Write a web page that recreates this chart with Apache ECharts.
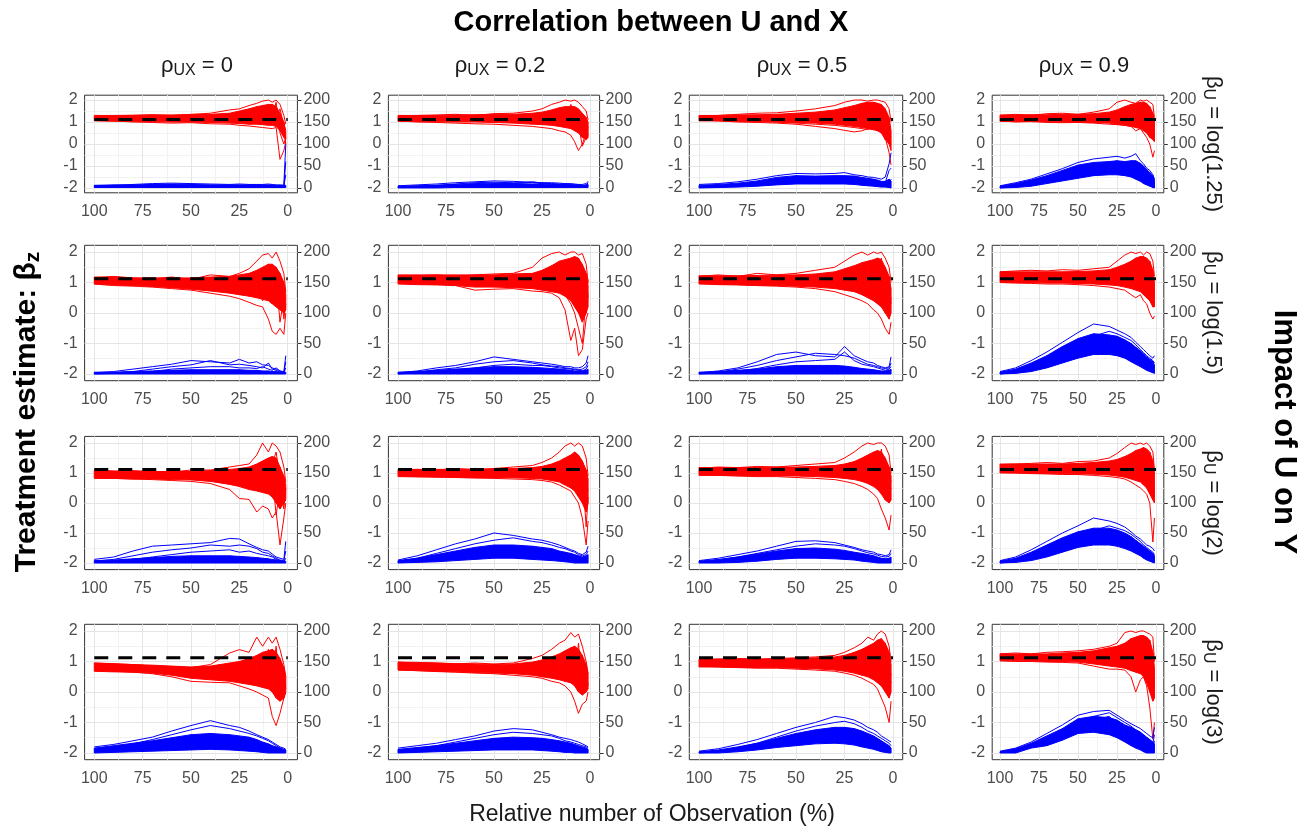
<!DOCTYPE html>
<html>
<head>
<meta charset="utf-8">
<script src="https://cdn.jsdelivr.net/npm/echarts@6/dist/echarts.min.js"></script>
<style>
  html, body { margin: 0; padding: 0; background: #fff; }
  #chart { width: 1303px; height: 830px; }
</style>
</head>
<body>
<div id="chart"></div>
<script>
const xPct = [100, 90, 80, 70, 60, 50, 40, 30, 25, 20, 16, 13, 10, 8, 6, 4, 2, 1];

// red = treatment estimate (left axis). rows 0-1: edges of the dense bundle, rest: single runs
// blue = right axis (0-200). rows 0-1: edges of the dense bundle, rest: single runs
const red_1_1 = [
  [1.05, 1.04, 1.03, 1.02, 1.0, 1.0, 0.98, 0.95, 0.93, 0.9, 0.9, 0.88, 0.85, 0.85, 0.8, 0.6, 0.3, 0.2],
  [1.3, 1.3, 1.31, 1.32, 1.32, 1.33, 1.35, 1.4, 1.5, 1.6, 1.7, 1.75, 1.8, 1.8, 1.7, 1.4, 1.0, 0.6],
  [1.25, 1.28, 1.3, 1.33, 1.3, 1.35, 1.4, 1.55, 1.6, 1.75, 1.85, 1.95, 2.0, 1.9, 2.0, 1.8, 1.3, 0.9],
  [1.08, 1.05, 1.0, 0.98, 0.95, 0.97, 0.92, 0.9, 0.85, 0.82, 0.78, 0.75, 0.72, 0.7, 0.75, -0.7, -0.3, 0.1],
  [1.15, 1.12, 1.2, 1.15, 1.1, 1.2, 1.05, 1.2, 1.1, 1.3, 1.5, 1.4, 1.6, 1.2, 1.9, 0.5, 0.0, 0.3],
  [1.2, 1.18, 1.1, 1.25, 1.2, 1.1, 1.25, 1.05, 1.35, 1.0, 1.2, 1.6, 1.0, 1.5, 1.2, 1.6, 0.8, 0.0]
];
const blue_1_1 = [
  [1, 1, 1, 1, 1, 1, 1, 1, 1, 1, 1, 1, 1, 1, 1, 1, 1, 1],
  [6, 7, 7, 8, 9, 8, 7, 7, 7, 7, 7, 7, 7, 7, 6, 6, 6, 6],
  [5, 6, 8, 10, 11, 10, 9, 8, 9, 8, 8, 8, 9, 8, 7, 7, 6, 100],
  [2, 3, 4, 5, 6, 5, 4, 5, 4, 4, 5, 4, 4, 3, 3, 3, 3, 60],
  [3, 4, 5, 7, 7, 6, 6, 6, 6, 5, 6, 5, 5, 5, 4, 4, 4, 30]
];
const red_1_2 = [
  [1.03, 1.02, 1.02, 1.0, 1.0, 0.98, 0.95, 0.9, 0.88, 0.85, 0.8, 0.75, 0.7, 0.6, 0.5, 0.3, 0.2, 0.3],
  [1.3, 1.3, 1.3, 1.32, 1.33, 1.35, 1.35, 1.4, 1.45, 1.55, 1.65, 1.7, 1.7, 1.7, 1.6, 1.4, 1.2, 1.0],
  [1.28, 1.3, 1.32, 1.35, 1.3, 1.38, 1.4, 1.5, 1.6, 1.8, 1.9, 2.0, 1.95, 2.0, 1.9, 1.7, 1.5, 1.1],
  [1.05, 1.0, 0.98, 0.95, 0.92, 0.9, 0.85, 0.8, 0.75, 0.7, 0.6, 0.55, 0.4, 0.1, -0.3, 0.0, 0.5, 0.6],
  [1.15, 1.2, 1.1, 1.18, 1.1, 1.2, 1.15, 1.05, 1.2, 1.3, 1.0, 1.4, 1.2, 0.6, 0.9, -0.1, 0.3, 0.8],
  [1.2, 1.1, 1.25, 1.15, 1.25, 1.1, 1.3, 1.25, 1.1, 1.45, 1.5, 1.1, 1.8, 1.5, 1.3, 1.1, 0.7, 0.4]
];
const blue_1_2 = [
  [0, 0, 0, 1, 1, 1, 1, 1, 1, 1, 1, 1, 1, 1, 1, 1, 1, 1],
  [4, 5, 6, 8, 10, 11, 10, 9, 9, 8, 8, 8, 7, 7, 6, 6, 7, 8],
  [5, 7, 9, 12, 14, 16, 15, 13, 12, 12, 11, 10, 10, 9, 8, 8, 10, 15],
  [2, 4, 6, 9, 12, 13, 12, 12, 10, 9, 8, 7, 6, 6, 5, 5, 6, 12],
  [1, 2, 3, 5, 7, 9, 10, 14, 11, 10, 9, 9, 8, 7, 8, 6, 5, 8]
];
const red_1_3 = [
  [1.05, 1.05, 1.03, 1.02, 1.0, 0.98, 0.95, 0.9, 0.85, 0.8, 0.75, 0.7, 0.65, 0.6, 0.5, 0.2, 0.0, -0.3],
  [1.3, 1.3, 1.32, 1.33, 1.35, 1.4, 1.45, 1.55, 1.65, 1.75, 1.85, 1.9, 1.9, 1.85, 1.8, 1.6, 1.2, 0.6],
  [1.25, 1.3, 1.35, 1.4, 1.42, 1.5, 1.6, 1.75, 1.9, 2.0, 2.0, 1.95, 2.0, 2.0, 1.95, 1.9, 1.6, 1.0],
  [1.1, 1.05, 1.0, 0.98, 0.95, 0.9, 0.8, 0.7, 0.62, 0.55, 0.6, 0.7, 0.65, 0.8, 0.6, 0.3, -0.4, -0.95],
  [1.15, 1.1, 1.12, 1.05, 1.0, 0.95, 0.9, 0.85, 0.8, 0.75, 0.7, 0.65, 0.85, 0.7, 0.9, 0.5, 0.2, 0.0],
  [1.2, 1.22, 1.2, 1.25, 1.2, 1.3, 1.1, 1.4, 1.2, 1.6, 1.3, 1.7, 1.5, 1.2, 1.4, 0.8, 0.5, 0.3]
];
const blue_1_3 = [
  [0, 1, 2, 4, 7, 9, 9, 9, 9, 8, 6, 5, 4, 3, 2, 2, 1, 0],
  [6, 8, 11, 16, 24, 28, 27, 28, 28, 27, 24, 22, 20, 18, 15, 15, 20, 15],
  [8, 10, 14, 20, 28, 33, 32, 33, 35, 30, 28, 25, 24, 22, 20, 25, 55, 80],
  [3, 5, 8, 12, 18, 24, 25, 22, 24, 22, 18, 16, 14, 12, 10, 12, 40, 45],
  [1, 2, 4, 8, 13, 18, 17, 16, 17, 16, 14, 12, 10, 9, 8, 6, 10, 20]
];
const red_1_4 = [
  [1.03, 1.03, 1.02, 1.02, 1.0, 1.0, 0.98, 0.95, 0.9, 0.85, 0.8, 0.75, 0.7, 0.6, 0.5, 0.3, 0.2, 0.1],
  [1.32, 1.32, 1.33, 1.33, 1.35, 1.35, 1.38, 1.45, 1.55, 1.7, 1.8, 1.85, 1.9, 1.9, 1.85, 1.7, 1.4, 1.1],
  [1.3, 1.35, 1.3, 1.38, 1.4, 1.35, 1.45, 1.6, 1.9, 2.0, 1.9, 1.85, 2.0, 1.95, 2.0, 1.9, 1.8, 1.2],
  [1.05, 1.0, 1.02, 0.98, 0.97, 0.98, 0.95, 0.9, 0.88, 0.85, 0.8, 0.6, 0.7, 0.5, 0.3, 0.0, -0.6, -0.3],
  [1.2, 1.15, 1.25, 1.1, 1.2, 1.15, 1.1, 1.25, 1.2, 1.4, 1.0, 1.3, 1.1, 0.9, 1.4, 0.7, 0.4, 0.5],
  [1.15, 1.25, 1.1, 1.2, 1.1, 1.25, 1.3, 1.1, 1.5, 1.2, 1.6, 1.1, 1.5, 1.3, 0.8, 1.2, 0.9, 0.6]
];
const blue_1_4 = [
  [0, 1, 4, 10, 16, 22, 28, 30, 30, 28, 25, 20, 15, 10, 7, 4, 1, 0],
  [4, 10, 18, 28, 40, 52, 58, 60, 62, 60, 62, 62, 56, 50, 42, 35, 28, 18],
  [5, 12, 20, 32, 44, 58, 66, 70, 72, 68, 72, 78, 62, 55, 45, 40, 30, 20],
  [2, 6, 12, 20, 30, 40, 48, 52, 50, 52, 55, 52, 48, 40, 35, 28, 22, 10],
  [0, 3, 8, 15, 22, 30, 34, 38, 36, 40, 35, 32, 30, 26, 22, 16, 8, 2]
];
const red_2_1 = [
  [0.95, 0.92, 0.9, 0.87, 0.83, 0.78, 0.72, 0.65, 0.6, 0.55, 0.5, 0.45, 0.4, 0.3, 0.2, 0.1, 0.0, 0.1],
  [1.18, 1.18, 1.15, 1.15, 1.15, 1.15, 1.18, 1.2, 1.25, 1.3, 1.4, 1.5, 1.6, 1.6, 1.5, 1.3, 1.0, 0.6],
  [1.15, 1.2, 1.15, 1.12, 1.18, 1.1, 1.25, 1.2, 1.3, 1.45, 1.7, 1.9, 1.95, 1.8, 2.0, 1.7, 1.3, 0.7],
  [0.95, 0.9, 0.88, 0.85, 0.8, 0.75, 0.65, 0.55, 0.47, 0.35, 0.25, 0.2, -0.2, -0.6, -0.7, -0.5, -0.7, 0.0],
  [1.05, 1.0, 1.02, 0.95, 0.9, 0.95, 0.85, 0.8, 0.75, 0.6, 0.9, 0.4, 1.0, 0.3, 1.2, -0.3, 0.5, 0.45],
  [1.1, 1.05, 0.98, 1.05, 1.0, 0.85, 1.0, 0.95, 1.1, 0.9, 1.2, 1.3, 0.7, 1.5, 0.5, 1.0, -0.2, 0.3]
];
const blue_2_1 = [
  [0, 0, 0, 0, 0, 0, 0, 0, 0, 0, 0, 0, 0, 0, 0, 0, 0, 0],
  [3, 3, 4, 5, 6, 7, 7, 7, 7, 6, 6, 5, 5, 4, 4, 3, 3, 3],
  [2, 4, 8, 12, 16, 22, 20, 18, 24, 18, 20, 15, 14, 10, 8, 5, 4, 30],
  [1, 2, 4, 8, 12, 15, 22, 15, 16, 14, 12, 10, 18, 8, 6, 3, 2, 20],
  [0, 1, 2, 4, 8, 10, 12, 12, 10, 10, 9, 12, 8, 6, 10, 5, 2, 10]
];
const red_2_2 = [
  [0.95, 0.93, 0.92, 0.9, 0.85, 0.85, 0.83, 0.8, 0.75, 0.7, 0.65, 0.55, 0.4, 0.2, 0.0, -0.3, 0.0, 0.2],
  [1.25, 1.25, 1.25, 1.25, 1.25, 1.25, 1.28, 1.3, 1.4, 1.55, 1.7, 1.75, 1.8, 1.85, 1.8, 1.6, 1.3, 0.9],
  [1.2, 1.22, 1.25, 1.2, 1.25, 1.28, 1.3, 1.5, 1.8, 1.95, 2.0, 1.9, 2.0, 2.0, 1.9, 1.95, 1.6, 1.0],
  [1.0, 0.98, 0.95, 0.9, 0.75, 0.78, 0.8, 0.72, 0.7, 0.65, 0.5, 0.1, -0.9, -0.5, -1.4, -1.2, -0.2, 0.0],
  [1.05, 1.1, 1.0, 1.05, 0.95, 0.9, 0.95, 0.85, 0.9, 0.75, 0.7, 0.6, 0.3, 0.0, -0.5, -1.0, 0.5, 1.1],
  [1.15, 1.1, 1.15, 1.1, 1.1, 1.2, 1.05, 1.25, 1.1, 1.35, 1.2, 1.5, 1.1, 1.6, 1.0, 0.3, 1.2, 0.5]
];
const blue_2_2 = [
  [0, 0, 0, 0, 0, 0, 0, 0, 0, 0, 0, 0, 0, 0, 0, 0, 0, 0],
  [3, 4, 6, 8, 10, 12, 12, 11, 10, 9, 8, 7, 6, 5, 5, 5, 6, 8],
  [2, 5, 10, 14, 20, 28, 24, 20, 18, 16, 14, 12, 12, 10, 10, 12, 18, 30],
  [1, 3, 7, 10, 16, 20, 22, 18, 15, 13, 12, 10, 9, 8, 7, 8, 12, 20],
  [0, 2, 4, 6, 10, 14, 16, 14, 14, 12, 10, 9, 8, 7, 6, 5, 8, 14]
];
const red_2_3 = [
  [0.95, 0.93, 0.92, 0.9, 0.9, 0.88, 0.85, 0.8, 0.75, 0.7, 0.6, 0.5, 0.4, 0.3, 0.2, 0.0, -0.2, 0.0],
  [1.22, 1.22, 1.22, 1.23, 1.25, 1.25, 1.28, 1.35, 1.45, 1.55, 1.65, 1.7, 1.75, 1.8, 1.75, 1.5, 1.2, 0.8],
  [1.2, 1.25, 1.2, 1.3, 1.25, 1.3, 1.4, 1.5, 1.7, 1.9, 2.0, 1.9, 2.0, 1.95, 2.0, 1.8, 1.5, 1.0],
  [1.0, 0.95, 0.93, 0.9, 0.88, 0.85, 0.8, 0.7, 0.6, 0.5, 0.4, 0.3, 0.1, 0.0, -0.2, -0.5, -0.7, -0.3],
  [1.1, 1.05, 1.1, 1.0, 1.05, 1.0, 0.95, 1.0, 0.9, 1.2, 0.8, 1.3, 0.7, 1.4, 0.5, 1.0, 0.2, 0.5],
  [1.15, 1.12, 1.05, 1.15, 1.1, 1.15, 1.1, 1.2, 1.3, 1.0, 1.5, 1.0, 1.6, 1.1, 1.8, 0.4, 0.9, 0.3]
];
const blue_2_3 = [
  [0, 0, 0, 0, 0, 0, 0, 0, 0, 0, 0, 0, 0, 0, 0, 0, 0, 0],
  [3, 4, 6, 8, 12, 14, 14, 14, 13, 11, 9, 8, 7, 6, 5, 5, 6, 8],
  [2, 5, 10, 20, 32, 36, 30, 28, 45, 30, 24, 20, 18, 14, 12, 10, 12, 28],
  [1, 3, 8, 14, 22, 28, 34, 32, 30, 26, 20, 16, 14, 12, 10, 9, 10, 18],
  [0, 2, 5, 9, 15, 20, 22, 24, 36, 22, 16, 14, 12, 10, 8, 6, 8, 12]
];
const red_2_4 = [
  [1.0, 1.0, 1.0, 0.98, 0.98, 0.97, 0.95, 0.92, 0.9, 0.85, 0.8, 0.75, 0.7, 0.6, 0.5, 0.4, 0.2, 0.2],
  [1.35, 1.35, 1.35, 1.35, 1.35, 1.36, 1.38, 1.42, 1.5, 1.6, 1.7, 1.8, 1.85, 1.85, 1.8, 1.7, 1.4, 1.0],
  [1.35, 1.38, 1.4, 1.38, 1.42, 1.4, 1.45, 1.5, 1.7, 1.9, 2.0, 1.95, 2.0, 1.9, 2.0, 1.95, 1.7, 1.2],
  [1.0, 0.98, 0.97, 0.95, 0.95, 0.93, 0.9, 0.85, 0.8, 0.75, 0.6, 0.5, 0.6, 0.4, 0.3, 0.0, -0.2, -0.1],
  [1.2, 1.15, 1.25, 1.1, 1.2, 1.15, 1.3, 1.1, 1.2, 1.4, 1.1, 1.5, 1.0, 1.6, 1.2, 0.8, 0.6, 0.5],
  [1.1, 1.2, 1.1, 1.25, 1.1, 1.25, 1.1, 1.3, 1.05, 1.2, 1.6, 1.2, 1.7, 1.1, 0.7, 1.4, 1.0, 0.7]
];
const blue_2_4 = [
  [0, 1, 4, 10, 18, 26, 32, 32, 30, 26, 20, 16, 12, 9, 6, 4, 2, 1],
  [3, 8, 18, 30, 45, 58, 66, 64, 62, 56, 50, 44, 38, 33, 28, 24, 20, 15],
  [4, 10, 22, 36, 52, 68, 82, 78, 72, 66, 60, 52, 45, 40, 35, 30, 26, 30],
  [2, 6, 14, 24, 38, 52, 62, 70, 66, 60, 55, 48, 40, 35, 30, 26, 22, 18],
  [0, 3, 8, 16, 26, 36, 44, 46, 44, 40, 36, 30, 26, 22, 18, 14, 10, 6]
];
const red_3_1 = [
  [0.82, 0.82, 0.8, 0.8, 0.78, 0.77, 0.72, 0.62, 0.55, 0.45, 0.4, 0.35, 0.3, 0.2, 0.0, -0.2, 0.0, 0.1],
  [1.08, 1.07, 1.05, 1.05, 1.05, 1.05, 1.08, 1.12, 1.15, 1.2, 1.3, 1.4, 1.5, 1.55, 1.5, 1.2, 0.9, 0.6],
  [1.1, 1.05, 1.08, 1.05, 1.03, 1.1, 1.1, 1.2, 1.25, 1.3, 1.6, 2.0, 1.7, 2.0, 1.9, 1.7, 1.2, 0.7],
  [0.85, 0.82, 0.8, 0.78, 0.75, 0.72, 0.65, 0.45, 0.15, 0.12, -0.3, -0.1, -0.2, -0.5, -0.3, -1.4, -0.5, 0.0],
  [0.95, 0.9, 0.92, 0.88, 0.9, 0.85, 0.8, 0.75, 0.7, 0.6, 0.5, 0.7, 0.3, 1.0, -0.4, 0.5, 0.2, 0.3],
  [1.0, 0.98, 0.95, 1.0, 0.95, 0.98, 0.95, 1.0, 0.9, 1.1, 0.9, 1.2, 1.0, 1.3, 1.7, 0.8, -0.2, 0.5]
];
const blue_3_1 = [
  [0, 0, 0, 0, 0, 0, 0, 0, 0, 0, 0, 0, 0, 0, 0, 0, 0, 0],
  [4, 5, 7, 9, 11, 12, 12, 12, 11, 10, 9, 8, 7, 6, 5, 4, 3, 3],
  [6, 10, 20, 28, 30, 32, 34, 41, 40, 32, 26, 22, 20, 15, 10, 8, 6, 36],
  [3, 6, 12, 18, 22, 25, 30, 28, 30, 28, 24, 18, 16, 12, 8, 5, 4, 20],
  [1, 3, 6, 10, 14, 18, 20, 22, 18, 20, 16, 14, 12, 10, 6, 4, 2, 8]
];
const red_3_2 = [
  [0.88, 0.87, 0.87, 0.86, 0.85, 0.85, 0.84, 0.82, 0.8, 0.75, 0.7, 0.6, 0.5, 0.4, 0.2, 0.0, -0.3, 0.0],
  [1.12, 1.12, 1.12, 1.12, 1.12, 1.13, 1.15, 1.18, 1.22, 1.3, 1.4, 1.5, 1.6, 1.7, 1.6, 1.4, 1.1, 0.8],
  [1.1, 1.12, 1.1, 1.15, 1.12, 1.15, 1.2, 1.25, 1.35, 1.5, 1.7, 1.9, 2.0, 1.9, 2.0, 1.9, 1.5, 0.9],
  [0.9, 0.88, 0.86, 0.85, 0.83, 0.82, 0.8, 0.78, 0.75, 0.7, 0.6, 0.5, 0.4, 0.2, 0.0, -0.5, -1.4, -0.6],
  [1.0, 0.95, 1.0, 0.95, 1.0, 0.9, 1.0, 0.9, 1.1, 0.8, 1.2, 0.6, 1.3, 0.5, 1.5, 0.3, 0.6, 0.4],
  [1.05, 1.0, 0.95, 1.05, 0.95, 1.05, 0.9, 1.05, 0.85, 1.2, 0.9, 1.3, 0.8, 1.2, 0.6, 1.1, -0.8, 0.2]
];
const blue_3_2 = [
  [0, 1, 2, 4, 6, 8, 8, 6, 5, 4, 3, 2, 1, 0, 0, 0, 0, 0],
  [4, 8, 14, 20, 26, 30, 30, 28, 26, 24, 20, 18, 16, 14, 12, 10, 12, 14],
  [5, 12, 22, 32, 40, 50, 46, 40, 38, 34, 30, 26, 22, 20, 16, 14, 18, 28],
  [3, 8, 16, 24, 32, 38, 42, 36, 34, 30, 26, 24, 20, 18, 14, 12, 14, 20],
  [1, 4, 8, 12, 18, 22, 26, 24, 22, 20, 18, 16, 14, 12, 10, 8, 8, 10]
];
const red_3_3 = [
  [0.92, 0.92, 0.91, 0.9, 0.9, 0.9, 0.88, 0.85, 0.82, 0.78, 0.72, 0.65, 0.55, 0.45, 0.3, 0.1, 0.0, 0.1],
  [1.18, 1.18, 1.18, 1.18, 1.2, 1.2, 1.22, 1.25, 1.3, 1.38, 1.5, 1.6, 1.7, 1.75, 1.7, 1.5, 1.2, 0.9],
  [1.15, 1.2, 1.18, 1.22, 1.2, 1.25, 1.3, 1.35, 1.5, 1.7, 1.9, 2.0, 1.95, 2.0, 2.0, 1.9, 1.6, 1.0],
  [0.95, 0.92, 0.9, 0.88, 0.88, 0.85, 0.82, 0.78, 0.72, 0.65, 0.55, 0.45, 0.3, 0.15, -0.2, -0.5, -0.9, -0.4],
  [1.0, 1.05, 1.0, 1.05, 1.0, 1.05, 1.0, 1.1, 0.95, 1.2, 0.9, 1.3, 0.8, 1.4, 0.6, 1.2, 0.3, 0.5],
  [1.1, 1.05, 1.12, 1.0, 1.1, 1.0, 1.1, 0.95, 1.15, 0.9, 1.3, 0.85, 1.5, 0.7, 1.8, 0.5, 1.0, 0.7]
];
const blue_3_3 = [
  [0, 0, 1, 3, 6, 8, 8, 7, 6, 5, 3, 2, 1, 0, 0, 0, 0, 0],
  [3, 6, 10, 15, 20, 24, 25, 23, 21, 18, 16, 14, 12, 10, 8, 7, 8, 10],
  [4, 8, 14, 20, 28, 36, 37, 34, 30, 26, 22, 20, 18, 15, 14, 12, 14, 22],
  [2, 5, 10, 16, 22, 28, 32, 30, 28, 24, 20, 17, 15, 13, 11, 10, 11, 16],
  [1, 3, 6, 10, 14, 18, 20, 20, 18, 16, 14, 12, 10, 8, 7, 6, 6, 8]
];
const red_3_4 = [
  [1.0, 1.0, 0.99, 0.98, 0.98, 0.97, 0.96, 0.93, 0.9, 0.86, 0.8, 0.75, 0.7, 0.6, 0.5, 0.3, 0.1, 0.0],
  [1.3, 1.3, 1.3, 1.3, 1.3, 1.32, 1.35, 1.4, 1.45, 1.55, 1.65, 1.75, 1.8, 1.85, 1.8, 1.7, 1.4, 1.0],
  [1.28, 1.3, 1.32, 1.35, 1.32, 1.38, 1.4, 1.5, 1.65, 1.85, 2.0, 1.95, 2.0, 1.95, 2.0, 1.9, 1.7, 1.1],
  [1.02, 1.0, 0.98, 0.97, 0.95, 0.95, 0.92, 0.88, 0.85, 0.8, 0.7, 0.6, 0.5, 0.4, 0.3, 0.0, -1.3, -0.5],
  [1.15, 1.2, 1.1, 1.2, 1.15, 1.1, 1.2, 1.15, 1.3, 1.1, 1.4, 1.0, 1.5, 0.9, 1.3, 0.6, 0.3, 0.4],
  [1.1, 1.15, 1.22, 1.1, 1.2, 1.25, 1.1, 1.3, 1.05, 1.4, 1.0, 1.5, 1.1, 1.7, 0.8, 1.4, 0.9, 0.2]
];
const blue_3_4 = [
  [0, 1, 4, 10, 18, 26, 30, 30, 28, 24, 20, 16, 12, 8, 5, 3, 1, 0],
  [3, 8, 18, 30, 42, 52, 58, 58, 55, 50, 44, 38, 32, 28, 24, 20, 16, 12],
  [4, 10, 22, 36, 50, 62, 75, 70, 66, 60, 52, 45, 40, 35, 30, 28, 24, 20],
  [2, 6, 14, 24, 36, 46, 54, 62, 58, 54, 48, 42, 36, 30, 26, 22, 18, 14],
  [0, 3, 9, 18, 28, 36, 42, 44, 42, 38, 34, 28, 24, 20, 16, 12, 8, 4]
];
const red_4_1 = [
  [0.68, 0.66, 0.65, 0.62, 0.55, 0.45, 0.4, 0.35, 0.3, 0.25, 0.2, 0.15, 0.1, 0.0, -0.2, -0.3, -0.2, 0.0],
  [0.95, 0.93, 0.9, 0.88, 0.85, 0.82, 0.85, 0.95, 1.0, 1.1, 1.2, 1.3, 1.35, 1.4, 1.3, 1.1, 0.8, 0.5],
  [0.95, 0.92, 0.9, 0.85, 0.82, 0.8, 0.9, 1.28, 1.39, 1.3, 1.8, 1.5, 1.8, 1.6, 1.8, 1.4, 0.9, 0.5],
  [0.7, 0.68, 0.65, 0.6, 0.5, 0.35, 0.32, 0.3, 0.2, 0.1, 0.0, -0.1, -0.2, -0.8, -1.1, -0.7, -0.2, 0.0],
  [0.8, 0.75, 0.78, 0.72, 0.7, 0.65, 0.6, 0.7, 0.55, 0.8, 0.5, 1.0, 0.4, 1.2, 0.2, 0.6, 0.3, 0.2],
  [0.85, 0.82, 0.75, 0.8, 0.75, 0.7, 0.75, 0.6, 0.8, 0.6, 1.0, 0.7, 1.4, 0.5, 1.5, 0.0, 0.7, 0.1]
];
const blue_4_1 = [
  [0, 1, 2, 3, 4, 5, 6, 5, 4, 3, 2, 1, 0, 0, 0, 0, 0, 0],
  [8, 12, 16, 20, 25, 30, 32, 30, 28, 26, 22, 18, 15, 12, 10, 8, 6, 5],
  [10, 14, 20, 26, 36, 45, 53, 45, 42, 36, 30, 26, 22, 18, 14, 10, 8, 6],
  [6, 10, 15, 22, 30, 38, 45, 40, 36, 32, 28, 24, 20, 16, 12, 8, 5, 3],
  [2, 4, 8, 12, 18, 22, 28, 26, 24, 20, 18, 15, 12, 10, 8, 6, 4, 2]
];
const red_4_2 = [
  [0.72, 0.7, 0.68, 0.66, 0.64, 0.62, 0.6, 0.55, 0.5, 0.45, 0.4, 0.35, 0.3, 0.2, 0.0, -0.1, 0.0, 0.1],
  [0.98, 0.97, 0.95, 0.93, 0.92, 0.9, 0.92, 0.98, 1.05, 1.15, 1.25, 1.35, 1.45, 1.5, 1.4, 1.2, 0.9, 0.6],
  [0.98, 0.95, 0.95, 0.92, 0.95, 0.92, 0.95, 1.1, 1.2, 1.4, 1.6, 1.7, 1.95, 1.8, 1.9, 1.5, 1.0, 0.6],
  [0.72, 0.7, 0.67, 0.65, 0.62, 0.6, 0.55, 0.5, 0.45, 0.35, 0.3, 0.2, 0.0, -0.3, -0.7, -0.4, -0.3, 0.0],
  [0.8, 0.85, 0.78, 0.82, 0.75, 0.8, 0.7, 0.8, 0.65, 0.9, 0.6, 1.0, 0.5, 1.2, 0.3, 0.8, 0.2, 0.3],
  [0.9, 0.82, 0.88, 0.78, 0.85, 0.72, 0.85, 0.68, 0.95, 0.6, 1.1, 0.55, 1.3, 0.4, 1.6, 0.2, 0.6, 0.2]
];
const blue_4_2 = [
  [0, 1, 2, 3, 4, 5, 5, 5, 4, 3, 2, 1, 1, 0, 0, 0, 0, 0],
  [6, 9, 12, 16, 20, 24, 26, 25, 24, 22, 20, 18, 16, 14, 12, 10, 8, 6],
  [8, 12, 16, 22, 28, 36, 40, 38, 34, 30, 26, 24, 22, 20, 18, 15, 12, 10],
  [4, 8, 12, 18, 24, 30, 34, 32, 30, 28, 24, 20, 18, 16, 14, 12, 10, 8],
  [1, 3, 6, 10, 14, 18, 20, 22, 20, 18, 16, 14, 12, 10, 8, 6, 4, 2]
];
const red_4_3 = [
  [0.82, 0.82, 0.81, 0.8, 0.8, 0.78, 0.76, 0.72, 0.68, 0.62, 0.55, 0.5, 0.4, 0.3, 0.2, 0.0, -0.2, 0.0],
  [1.08, 1.08, 1.08, 1.08, 1.08, 1.1, 1.12, 1.15, 1.2, 1.3, 1.4, 1.5, 1.6, 1.7, 1.75, 1.6, 1.3, 0.9],
  [1.05, 1.08, 1.1, 1.08, 1.1, 1.12, 1.15, 1.2, 1.3, 1.45, 1.6, 1.8, 1.7, 1.9, 2.0, 1.9, 1.5, 1.0],
  [0.85, 0.82, 0.8, 0.78, 0.78, 0.75, 0.72, 0.68, 0.62, 0.55, 0.45, 0.35, 0.25, 0.1, -0.2, -0.5, -1.0, -0.3],
  [0.95, 0.9, 0.95, 0.9, 0.95, 0.88, 0.95, 0.85, 1.0, 0.8, 1.1, 0.75, 1.3, 0.6, 1.5, 0.4, 0.6, 0.3],
  [1.0, 0.95, 0.88, 1.0, 0.9, 1.0, 0.85, 1.05, 0.8, 1.15, 0.7, 1.25, 0.6, 1.4, 0.5, 1.2, 0.2, 0.6]
];
const blue_4_3 = [
  [0, 0, 2, 5, 9, 12, 15, 16, 15, 13, 10, 8, 6, 4, 2, 1, 0, 0],
  [2, 5, 10, 16, 24, 32, 38, 42, 42, 40, 36, 32, 28, 24, 20, 16, 12, 8],
  [3, 7, 14, 22, 32, 42, 50, 60, 58, 54, 48, 42, 38, 34, 28, 24, 20, 18],
  [1, 4, 9, 16, 26, 36, 44, 50, 52, 48, 42, 36, 32, 28, 24, 20, 16, 12],
  [0, 2, 5, 10, 16, 22, 28, 32, 32, 30, 26, 22, 18, 14, 10, 8, 5, 3]
];
const red_4_4 = [
  [1.03, 1.03, 1.02, 1.0, 1.0, 0.98, 0.92, 0.85, 0.82, 0.78, 0.7, 0.65, 0.6, 0.5, 0.3, 0.0, -0.3, -0.2],
  [1.25, 1.25, 1.25, 1.25, 1.28, 1.3, 1.35, 1.45, 1.5, 1.6, 1.75, 1.8, 1.85, 1.85, 1.8, 1.7, 1.3, 0.8],
  [1.25, 1.28, 1.25, 1.3, 1.32, 1.35, 1.4, 1.5, 1.6, 1.95, 2.0, 1.95, 2.0, 2.0, 1.95, 1.9, 1.8, 1.0],
  [1.02, 1.0, 1.0, 0.98, 0.97, 0.95, 0.85, 0.75, 0.75, 0.72, 0.5, 0.0, 0.4, 0.5, 0.2, -0.5, -1.55, -1.0],
  [1.1, 1.15, 1.1, 1.15, 1.1, 1.2, 1.05, 1.25, 1.0, 1.35, 0.9, 1.4, 0.8, 1.5, 0.6, 1.2, 0.3, 0.4],
  [1.2, 1.1, 1.18, 1.08, 1.2, 1.05, 1.25, 1.0, 1.3, 0.9, 1.5, 0.85, 1.6, 0.9, 1.7, 0.5, 1.0, 0.2]
];
const blue_4_4 = [
  [0, 0, 8, 12, 21, 32, 34, 30, 25, 18, 12, 8, 5, 2, 0, 0, 0, 0],
  [2, 7, 16, 28, 40, 56, 60, 58, 54, 46, 42, 38, 34, 30, 26, 22, 18, 15],
  [3, 8, 18, 32, 46, 62, 68, 70, 62, 54, 48, 44, 40, 36, 32, 28, 25, 42],
  [2, 6, 13, 24, 38, 52, 60, 66, 58, 50, 44, 38, 34, 28, 24, 20, 16, 30],
  [1, 4, 10, 20, 30, 42, 54, 60, 48, 40, 36, 30, 26, 22, 18, 14, 10, 20]
];

const redPanels = [
  [red_1_1, red_1_2, red_1_3, red_1_4],
  [red_2_1, red_2_2, red_2_3, red_2_4],
  [red_3_1, red_3_2, red_3_3, red_3_4],
  [red_4_1, red_4_2, red_4_3, red_4_4]
];
const bluePanels = [
  [blue_1_1, blue_1_2, blue_1_3, blue_1_4],
  [blue_2_1, blue_2_2, blue_2_3, blue_2_4],
  [blue_3_1, blue_3_2, blue_3_3, blue_3_4],
  [blue_4_1, blue_4_2, blue_4_3, blue_4_4]
];

const rhoLabels = ['0', '0.2', '0.5', '0.9'];
const betaLabels = ['log(1.25)', 'log(1.5)', 'log(2)', 'log(3)'];
const trueEffect = 1.12;
const xTicks = [0, 25, 50, 75, 100];
const xMinor = [12.5, 37.5, 62.5, 87.5];
const yTicks = [-2, -1, 0, 1, 2];
const yMinor = [-1.5, -0.5, 0.5, 1.5];
const y2Ticks = [0, 50, 100, 150, 200];

// panel boxes in px
const colLeft = [84.6, 388.4, 689.3, 992.2];
const colRight = [297.4, 599.6, 902.7, 1163.8];
const rowTop = [95.2, 245.3, 436.4, 624.3];
const rowBottom = [192.8, 380.7, 569.6, 759.7];

const FONT = "'Liberation Sans', Arial, sans-serif";
const RED = '#ff0000';
const BLUE = '#0000ff';

function bandSeries(xi, yi, lo, hi, color) {
  const data = [];
  for (let k = 0; k < xPct.length - 1; k++) {
    data.push([xPct[k], lo[k], hi[k], xPct[k + 1], lo[k + 1], hi[k + 1]]);
  }
  return {
    type: 'custom', xAxisIndex: xi, yAxisIndex: yi, z: 3, silent: true, clip: true,
    encode: { x: [0, 3], y: [1, 2, 4, 5] },
    data,
    renderItem: (params, api) => {
      const pts = [
        api.coord([api.value(0), api.value(1)]),
        api.coord([api.value(0), api.value(2)]),
        api.coord([api.value(3), api.value(5)]),
        api.coord([api.value(3), api.value(4)])
      ];
      return { type: 'polygon', shape: { points: pts }, style: { fill: color, stroke: color, lineWidth: 1 } };
    }
  };
}

function traceSeries(xi, yi, vals, color) {
  return {
    type: 'line', xAxisIndex: xi, yAxisIndex: yi, z: 4, silent: true,
    symbol: 'none', clip: true,
    lineStyle: { color, width: 1 },
    data: xPct.map((x, k) => [x, vals[k]])
  };
}

const grids = [], xAxes = [], yAxes = [], series = [], graphics = [];

for (let r = 0; r < 4; r++) {
  for (let c = 0; c < 4; c++) {
    const i = r * 4 + c;
    grids.push({
      left: colLeft[c], top: rowTop[r],
      width: colRight[c] - colLeft[c], height: rowBottom[r] - rowTop[r],
      show: true, borderColor: '#333333', borderWidth: 1, backgroundColor: '#ffffff'
    });
    xAxes.push({
      gridIndex: i, type: 'value', inverse: true, min: -5, max: 105,
      axisLine: { show: false },
      axisTick: { customValues: xTicks, length: 4, lineStyle: { color: '#333333' } },
      axisLabel: { customValues: xTicks, fontSize: 16, color: '#4d4d4d', fontFamily: FONT, margin: 11 },
      splitLine: { show: false }
    });
    yAxes.push({
      gridIndex: i, type: 'value', position: 'left', min: -2.22, max: 2.22,
      axisLine: { show: false },
      axisTick: { customValues: yTicks, length: 4, lineStyle: { color: '#333333' } },
      axisLabel: { customValues: yTicks, fontSize: 16, color: '#4d4d4d', fontFamily: FONT, margin: 7 },
      splitLine: { show: false }
    });
    yAxes.push({
      gridIndex: i, type: 'value', position: 'right', min: -11, max: 211,
      axisLine: { show: false },
      axisTick: { customValues: y2Ticks, length: 4, lineStyle: { color: '#333333' } },
      axisLabel: { customValues: y2Ticks, fontSize: 16, color: '#4d4d4d', fontFamily: FONT, margin: 6 },
      splitLine: { show: false }
    });
    const yl = 2 * i, yr = 2 * i + 1;

    // panel grid lines (major + minor), drawn under the traces
    const gl = [];
    xMinor.forEach(v => gl.push({ xAxis: v, lineStyle: { color: '#f2f2f2', width: 1, type: 'solid' } }));
    yMinor.forEach(v => gl.push({ yAxis: v, lineStyle: { color: '#f2f2f2', width: 1, type: 'solid' } }));
    xTicks.forEach(v => gl.push({ xAxis: v, lineStyle: { color: '#e5e5e5', width: 1, type: 'solid' } }));
    yTicks.forEach(v => gl.push({ yAxis: v, lineStyle: { color: '#e5e5e5', width: 1, type: 'solid' } }));
    series.push({
      type: 'line', xAxisIndex: i, yAxisIndex: yl, z: 1, silent: true, data: [],
      markLine: { z: 1, silent: true, symbol: ['none', 'none'], label: { show: false }, animation: false,
        lineStyle: { type: 'solid' }, data: gl }
    });

    const red = redPanels[r][c];
    const blue = bluePanels[r][c];
    series.push(bandSeries(i, yl, red[0], red[1], RED));
    for (let k = 2; k < red.length; k++) series.push(traceSeries(i, yl, red[k], RED));
    series.push(bandSeries(i, yr, blue[0], blue[1], BLUE));
    for (let k = 2; k < blue.length; k++) series.push(traceSeries(i, yr, blue[k], BLUE));

    // true effect
    series.push({
      type: 'line', xAxisIndex: i, yAxisIndex: yl, z: 6, silent: true, symbol: 'none',
      lineStyle: { color: '#000000', width: 3, type: [14, 10], cap: 'butt' },
      data: [[100, trueEffect], [0, trueEffect]]
    });
  }
}

// strip labels and titles
for (let c = 0; c < 4; c++) {
  graphics.push({
    type: 'text', x: (colLeft[c] + colRight[c]) / 2 + 6, y: 66,
    style: {
      text: '{a|ρ}{b|UX}{a| = ' + rhoLabels[c] + '}',
      align: 'center', verticalAlign: 'middle',
      rich: {
        a: { fontSize: 22, fontFamily: FONT, fill: '#1a1a1a', lineHeight: 26 },
        b: { fontSize: 16, fontFamily: FONT, fill: '#1a1a1a', lineHeight: 16, verticalAlign: 'bottom' }
      }
    }
  });
}
for (let r = 0; r < 4; r++) {
  graphics.push({
    type: 'text', x: 1213, y: (rowTop[r] + rowBottom[r]) / 2, rotation: -Math.PI / 2,
    style: {
      text: '{a|β}{b|U}{a| = ' + betaLabels[r] + '}',
      align: 'center', verticalAlign: 'middle',
      rich: {
        a: { fontSize: 22, fontFamily: FONT, fill: '#1a1a1a', lineHeight: 26 },
        b: { fontSize: 16, fontFamily: FONT, fill: '#1a1a1a', lineHeight: 16, verticalAlign: 'bottom' }
      }
    }
  });
}
graphics.push({
  type: 'text', x: 651, y: 23,
  style: { text: 'Correlation between U and X', fontSize: 29, fontWeight: 'bold', fontFamily: FONT,
    fill: '#000', align: 'center', verticalAlign: 'middle' }
});
graphics.push({
  type: 'text', x: 1284, y: 432, rotation: -Math.PI / 2,
  style: { text: 'Impact of U on Y', fontSize: 31, fontWeight: 'bold', fontFamily: FONT,
    fill: '#000', align: 'center', verticalAlign: 'middle' }
});
graphics.push({
  type: 'text', x: 27, y: 412, rotation: Math.PI / 2,
  style: {
    text: '{a|Treatment estimate: β}{b|z}',
    align: 'center', verticalAlign: 'middle',
    rich: {
      a: { fontSize: 30, fontWeight: 'bold', fontFamily: FONT, fill: '#000', lineHeight: 34 },
      b: { fontSize: 21, fontWeight: 'bold', fontFamily: FONT, fill: '#000', lineHeight: 21, verticalAlign: 'bottom' }
    }
  }
});
graphics.push({
  type: 'text', x: 652, y: 815,
  style: { text: 'Relative number of Observation (%)', fontSize: 23, fontFamily: FONT,
    fill: '#1a1a1a', align: 'center', verticalAlign: 'middle' }
});

const chart = echarts.init(document.getElementById('chart'), null, { renderer: 'canvas' });
chart.setOption({
  backgroundColor: '#ffffff',
  animation: false,
  grid: grids,
  xAxis: xAxes,
  yAxis: yAxes,
  series: series,
  graphic: graphics
});
</script>
</body>
</html>
